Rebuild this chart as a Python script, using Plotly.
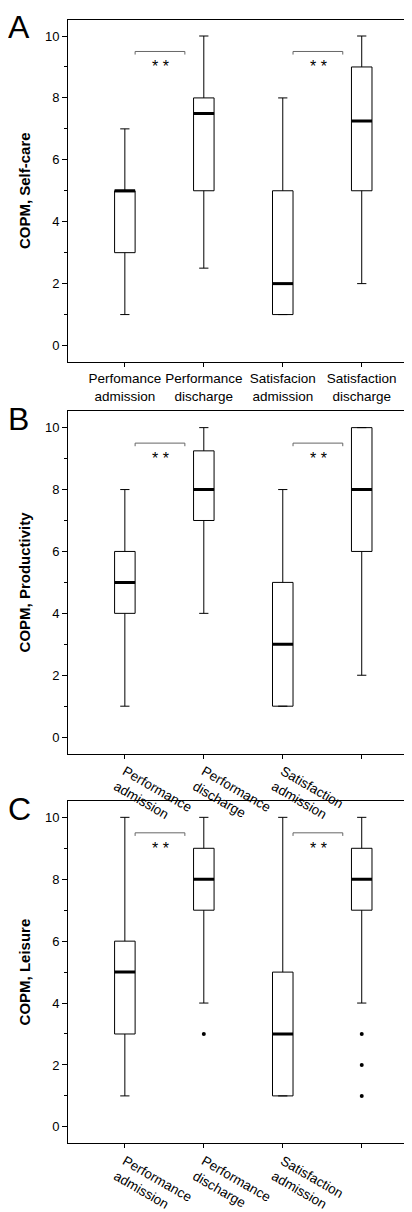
import plotly.graph_objects as go

cats_A = ["Perfomance<br>admission", "Performance<br>discharge", "Satisfacion<br>admission", "Satisfaction<br>discharge"]
cats_BC = ["Performance<br>admission", "Performance<br>discharge", "Satisfaction<br>admission", "Satisfaction<br>discharge"]
titles = ["COPM, Self-care", "COPM, Productivity", "COPM, Leisure"]
letters = ["A", "B", "C"]

# per panel: lower whisker, q1, median, q3, upper whisker
low_A = [1, 2.5, 1, 2]; q1_A = [3, 5, 1, 5]; med_A = [5, 7.5, 2, 7.25]; q3_A = [5, 8, 5, 9]; up_A = [7, 10, 8, 10]
low_B = [1, 4, 1, 2]; q1_B = [4, 7, 1, 6]; med_B = [5, 8, 3, 8]; q3_B = [6, 9.25, 5, 10]; up_B = [8, 10, 8, 10]
low_C = [1, 4, 1, 4]; q1_C = [3, 7, 1, 7]; med_C = [5, 8, 3, 8]; q3_C = [6, 9, 5, 9]; up_C = [10, 10, 10, 10]
out_C_x = [1, 3, 3, 3]
out_C_y = [3, 3, 2, 1]

panels = [
    (cats_A, low_A, q1_A, med_A, q3_A, up_A, [], []),
    (cats_BC, low_B, q1_B, med_B, q3_B, up_B, [], []),
    (cats_BC, low_C, q1_C, med_C, q3_C, up_C, out_C_x, out_C_y),
]
frames = [(12, 366), (417, 771), (820, 1174)]
H = 1212
fig = go.Figure()
bw = 0.13
for i, (cats, lo, q1, md, q3, up, ox, oy) in enumerate(panels):
    ax = "" if i == 0 else str(i + 1)
    xs = list(range(4))
    fig.add_trace(go.Box(x=xs, q1=q1, median=md, q3=q3, lowerfence=lo, upperfence=up,
                         xaxis="x" + ax, yaxis="y" + ax, fillcolor="white",
                         line=dict(color="black", width=1), width=0.26, whiskerwidth=0.45,
                         boxpoints=False, showlegend=False, hoverinfo="skip"))
    mx, my = [], []
    for k in xs:
        mx += [k - bw, k + bw, None]; my += [md[k], md[k], None]
    fig.add_trace(go.Scatter(x=mx, y=my, mode="lines", line=dict(color="black", width=3),
                             xaxis="x" + ax, yaxis="y" + ax, showlegend=False, hoverinfo="skip"))
    if ox:
        fig.add_trace(go.Scatter(x=ox, y=oy, mode="markers", marker=dict(color="black", size=4),
                                 xaxis="x" + ax, yaxis="y" + ax, showlegend=False))
    for a in (0, 2):
        bx = [a + 0.13, a + 0.13, a + 0.76, a + 0.76]
        by = [9.4, 9.5, 9.5, 9.4]
        fig.add_trace(go.Scatter(x=bx, y=by, mode="lines", line=dict(color="#666", width=1),
                                 xaxis="x" + ax, yaxis="y" + ax, showlegend=False))
        fig.add_annotation(x=a + 0.45, y=9.0, text="* *", showarrow=False, xref="x" + ax, yref="y" + ax,
                           font=dict(size=16, color="black", family="Arial"))
    t, b = frames[i]
    dom = [1 - b / H, 1 - t / H]
    fig.layout["xaxis" + ax] = dict(domain=[60 / 412, 409 / 412], range=[-0.72, 3.7], tickvals=xs,
                                    ticktext=cats, showline=True, mirror=True, linecolor="black",
                                    ticks="outside", ticklen=4, tickcolor="black", showgrid=False,
                                    zeroline=False, anchor="y" + ax,
                                    tickfont=dict(size=13.5, family="Arial", color="black"))
    fig.layout["yaxis" + ax] = dict(domain=dom, range=[-0.53, 10.53], tickvals=[0, 2, 4, 6, 8, 10],
                                    showline=True, mirror=True, linecolor="black", ticks="outside",
                                    ticklen=5, tickcolor="black", showgrid=False, zeroline=False,
                                    minor=dict(tickvals=[1, 3, 5, 7, 9], ticks="outside", ticklen=3, tickcolor="black"),
                                    anchor="x" + ax, tickfont=dict(size=13, family="Arial", color="black"),
                                    title=dict(text="<b>" + titles[i] + "</b>", standoff=10,
                                               font=dict(size=15, family="Arial", color="black")))
    fig.add_annotation(x=-0.005, y=1 - (t + 8) / H, xref="paper", yref="paper", text=letters[i],
                       showarrow=False, xanchor="left", yanchor="middle",
                       font=dict(size=32, family="Arial", color="black"))

fig.update_layout(width=412, height=1212, margin=dict(l=0, r=0, t=0, b=0),
                  plot_bgcolor="white", paper_bgcolor="white")
fig.write_html("out.html")
